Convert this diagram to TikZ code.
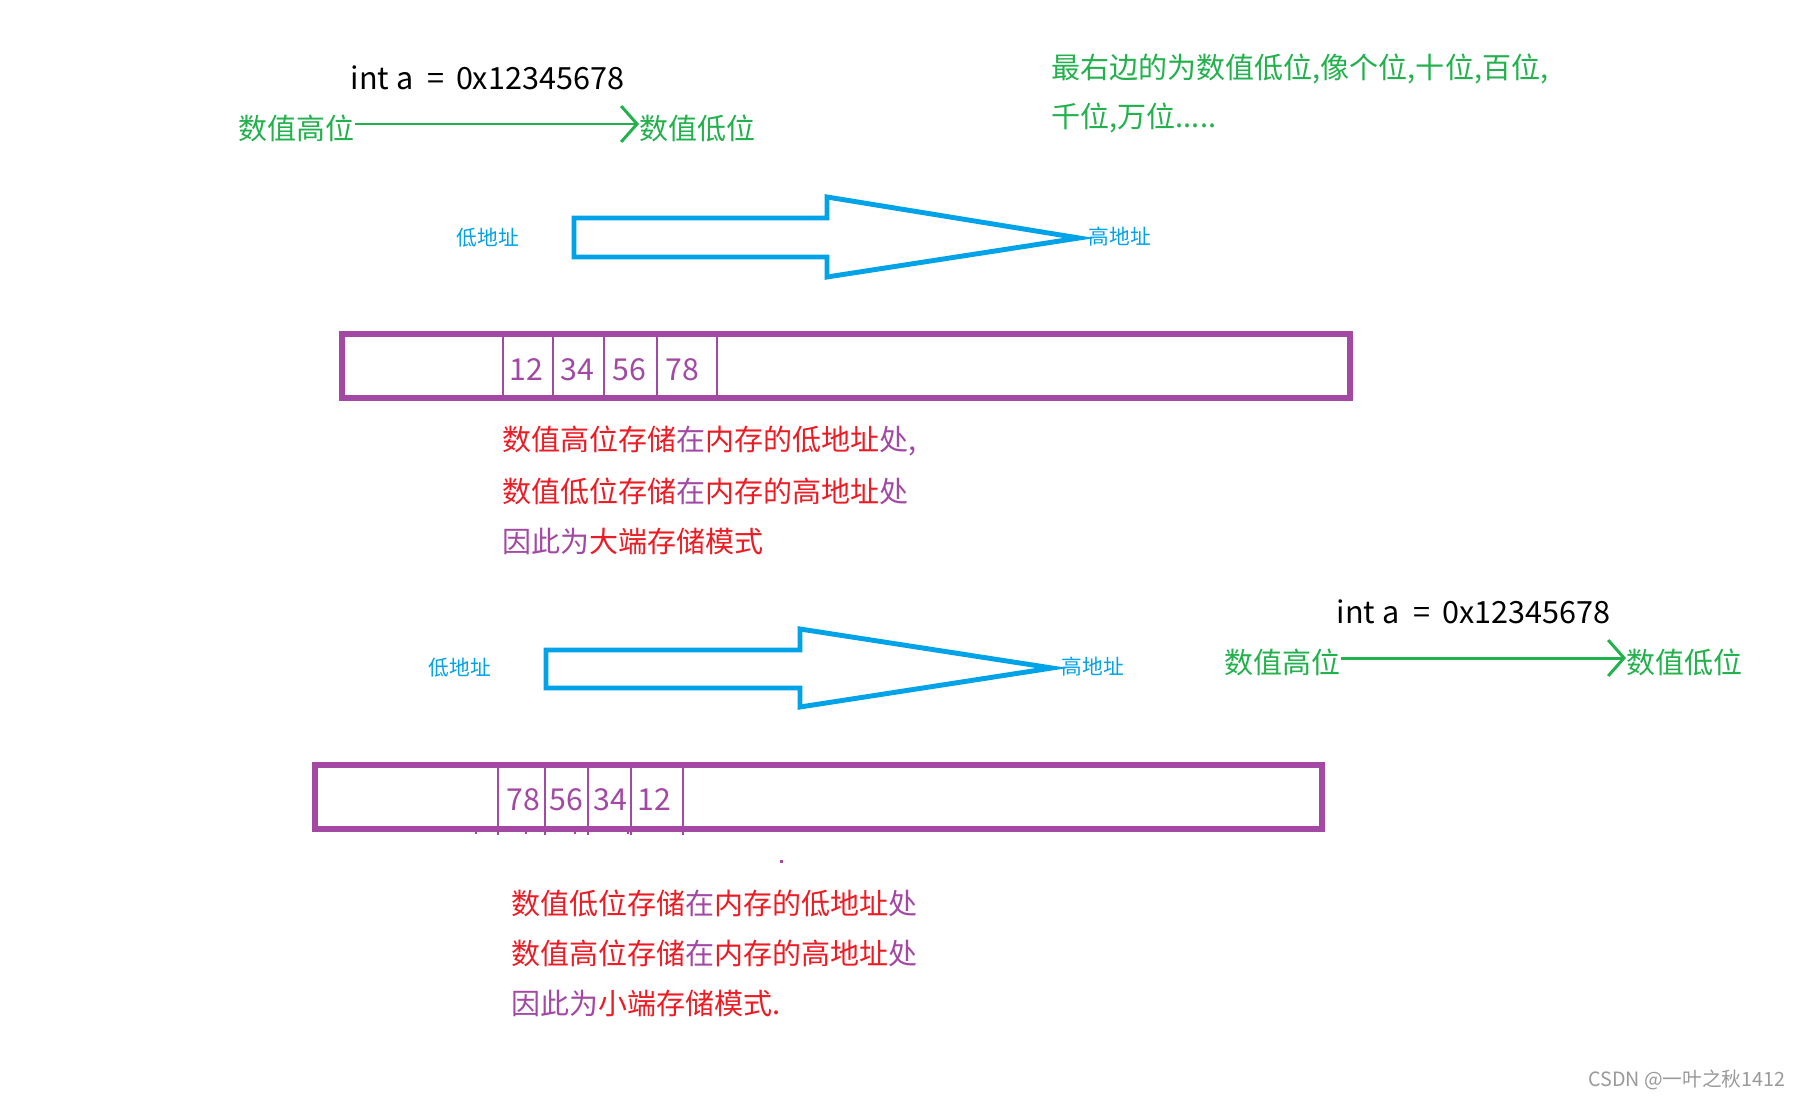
\documentclass[tikz,border=0pt]{standalone}
\usepackage{fontspec}
\setmainfont{Noto Sans CJK SC}
\usetikzlibrary{arrows.meta}
\definecolor{pgreen}{HTML}{22B14C}
\definecolor{pblue}{HTML}{00A2E8}
\definecolor{ppurple}{HTML}{A349A4}
\definecolor{pred}{HTML}{ED1C24}
\definecolor{wmark}{HTML}{9A9A9A}
\newcommand{\codeline}{int a\hspace{2.2pt} = \hspace{1.2pt}0x12345678}
\begin{document}
\begin{tikzpicture}[x=0.01cm,y=-0.01cm,
  txt/.style={inner sep=0pt, anchor=west, font=\fontsize{8.25}{10}\selectfont},
  codetxt/.style={inner sep=0pt, anchor=west, font=\fontsize{8.7}{10}\selectfont, text=black},
  gtxt/.style={txt, text=pgreen},
  addr/.style={inner sep=0pt, anchor=west, font=\fontsize{5.9}{7}\selectfont, text=pblue},
  num/.style={inner sep=0pt, font=\fontsize{8.6}{10}\selectfont, text=ppurple},
  garrow/.style={draw=pgreen, line width=0.85pt, -{Straight Barb[length=4.5pt,width=10.2pt,line width=0.85pt]}},
  bigarrow/.style={draw=pblue, line width=1.4pt, line join=miter},
  membox/.style={draw=ppurple, line width=1.5pt},
  divider/.style={draw=ppurple, line width=0.6pt}
]
\useasboundingbox[fill=white] (0,0) rectangle (1800,1100);

% ---------- top section ----------
\node[codetxt] (code1) at (350,78) {\codeline};
\node[gtxt] (hi1) at (238,128) {数值高位};
\node[gtxt] (lo1) at (639,128) {数值低位};
\draw[garrow] (hi1.east |- 0,124) -- (lo1.west |- 0,124);

\node[gtxt] (note1) at (1051,69) {最右边的为数值低位,像个位,十位,百位,};
\node[gtxt] (note2) at (1051,118) {千位,万位.....};

\node[addr] (la1) at (456,238) {低地址};
\node[addr] (ha1) at (1088,237) {高地址};
\draw[bigarrow] (574,218) -- (827,218) -- (827,197) -- (1079,238) -- (827,277) -- (827,257) -- (574,257) -- cycle;

\draw[membox] (342,334) rectangle (1350,398);
\foreach \x in {503,553,604,657,717} \draw[divider] (\x,336) -- (\x,396);
\node[num] (t12) at (526,370) {12};
\node[num] (t34) at (577,370) {34};
\node[num] (t56) at (629,370) {56};
\node[num] (t78) at (682,370) {78};

\node[txt] (big1) at (502,441) {\color{pred}数值高位存储\color{ppurple}在\color{pred}内存的低地址\color{ppurple}处,};
\node[txt] (big2) at (502,491) {\color{pred}数值低位存储\color{ppurple}在\color{pred}内存的高地址\color{ppurple}处};
\node[txt] (big3) at (502,541) {\color{ppurple}因此为\color{pred}大端存储模式};

% ---------- bottom section ----------
\node[codetxt] (code2) at (1336,612) {\codeline};
\node[gtxt] (hi2) at (1224,662) {数值高位};
\node[gtxt] (lo2) at (1626,662) {数值低位};
\draw[garrow] (hi2.east |- 0,658) -- (lo2.west |- 0,658);

\node[addr] (la2) at (428,668) {低地址};
\node[addr] (ha2) at (1061,667) {高地址};
\draw[bigarrow] (546,650) -- (800,650) -- (800,629) -- (1052,668) -- (800,707) -- (800,688) -- (546,688) -- cycle;

\draw[membox] (315,765) rectangle (1322,829);
\foreach \x in {498,545,588,631,683} \draw[divider] (\x,767) -- (\x,835);
\foreach \x in {476,526,575,628} \draw[divider] (\x,829) -- (\x,834);
\node[num] (b78) at (523,800) {78};
\node[num] (b56) at (566,800) {56};
\node[num] (b34) at (610,800) {34};
\node[num] (b12) at (654,800) {12};
\fill[ppurple] (780,860) rectangle (783,863);

\node[txt] (lit1) at (511,903) {\color{pred}数值低位存储\color{ppurple}在\color{pred}内存的低地址\color{ppurple}处};
\node[txt] (lit2) at (511,953) {\color{pred}数值高位存储\color{ppurple}在\color{pred}内存的高地址\color{ppurple}处};
\node[txt] (lit3) at (511,1003) {\color{ppurple}因此为\color{pred}小端存储模式.};

\node[inner sep=0pt, anchor=east, font=\fontsize{5.6}{6}\selectfont, text=wmark] (wm) at (1786,1080) {CSDN @一叶之秋1412};
\end{tikzpicture}
\end{document}
